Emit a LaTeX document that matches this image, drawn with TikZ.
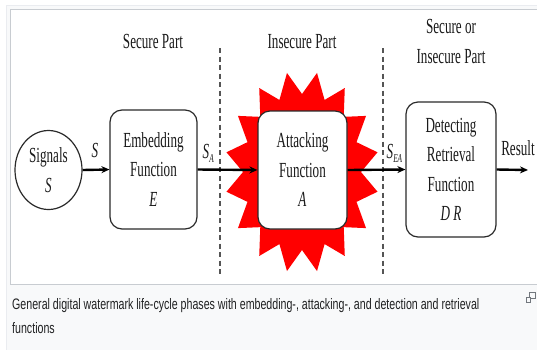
\documentclass[tikz,border=0pt]{standalone}
\usepackage{fontspec}
\setmainfont{Liberation Serif}
\newfontfamily\diagfont[FakeStretch=0.61]{Liberation Serif}
\newfontfamily\capfont[FakeStretch=0.7]{Liberation Sans}
\usetikzlibrary{arrows.meta,shapes.geometric}
\definecolor{thumbbg}{HTML}{F8F9FA}
\definecolor{thumbline}{HTML}{EAECF0}
\definecolor{imgline}{HTML}{C8CCD1}
\definecolor{boxline}{HTML}{2A2A2A}
\definecolor{inktext}{HTML}{1A1A1A}
\definecolor{captext}{HTML}{202122}
\definecolor{dashcol}{HTML}{555555}
\definecolor{iconcol}{HTML}{72777D}
\newcommand{\mysubs}[1]{\raisebox{-4pt}{\fontsize{12pt}{12pt}\selectfont\textit{#1}}}
\begin{document}
\begin{tikzpicture}[x=1pt,y=-1pt,
  txt/.style={font=\diagfont\fontsize{21.5pt}{29.5pt}\selectfont, text=inktext, inner sep=0pt},
  sbox/.style={txt, draw=boxline, line width=1.2pt, rounded corners=12pt, fill=white, align=center},
  sig/.style={txt, draw=boxline, line width=1.2pt, ellipse, fill=white, align=center},
  arr/.style={draw=black, line width=2.4pt, -{Stealth[length=8pt,width=7pt]}},
  sepline/.style={draw=dashcol, line width=1.4pt, dash pattern=on 5pt off 3.5pt},
  captxt/.style={font=\capfont\fontsize{15.2pt}{20pt}\selectfont, text=captext, inner sep=0pt, anchor=base west}]
\useasboundingbox (0,0) rectangle (537,349);
\fill[white] (0,0) rectangle (537,349);
\filldraw[fill=thumbbg, draw=thumbline, line width=1pt] (6.5,5.5) rectangle (560,370);
\filldraw[fill=white, draw=imgline, line width=1pt] (10.5,9.5) rectangle (560,284);

% separators
\draw[sepline] (220,48) -- (220,277);
\draw[sepline] (383,48) -- (383,277);

% red burst
\fill[red] plot[samples=33, domain=0:32, variable=\k]
  ({302+((mod(round(\k),2)==0) ? 77 : 59)*cos(78.75+\k*11.25)},
   {172+((mod(round(\k),2)==0) ? 101 : 78)*sin(78.75+\k*11.25)}) -- cycle;

% nodes
\node[sig, minimum width=67pt, minimum height=79pt] (sigS) at (48.5,170) {Signals\\\textit{S}};
\node[sbox, minimum width=87pt, minimum height=119pt] (emb) at (153.5,169.5) {Embedding\\Function\\\textit{E}};
\node[sbox, minimum width=89pt, minimum height=118pt] (att) at (302.5,170) {Attacking\\Function\\\textit{A}};
\node[sbox, minimum width=90pt, minimum height=135pt] (det) at (451,169.5) {Detecting\\Retrieval\\Function\\\textit{D R}};
\coordinate (res) at (528,170);

% connectors
\draw[arr] (sigS.east) -- (emb.west);
\draw[arr] (emb.east) -- (att.west);
\draw[arr] (att.east) -- (det.west);
\draw[arr] (det.east) -- (res);

% labels
\node[txt, anchor=base] (lS) at (95,157) {\textit{S}};
\node[txt, anchor=base west] (lSA) at (202.5,158) {\textit{S}\mysubs{A}};
\node[txt, anchor=base west] (lSEA) at (386.5,158) {\textit{S}\mysubs{EA}};
\node[txt, anchor=base] (lres) at (518,155) {Result};

\node[txt, anchor=base] (h1) at (153,48) {Secure Part};
\node[txt, anchor=base] (h2) at (302,48) {Insecure Part};
\node[txt, anchor=base] (h3a) at (451,33) {Secure or};
\node[txt, anchor=base] (h3b) at (451,63) {Insecure Part};

% caption
\node[captxt] (cap1) at (12,309) {General digital watermark life-cycle phases with embedding-, attacking-, and detection and retrieval};
\node[captxt] (cap2) at (12,333) {functions};

% enlarge icon
\draw[iconcol, line width=1pt] (529.5,292.5) rectangle (535.5,298.5);
\filldraw[fill=thumbbg, draw=iconcol, line width=1pt] (526.5,297.5) rectangle (530.5,302.5);
\end{tikzpicture}
\end{document}
